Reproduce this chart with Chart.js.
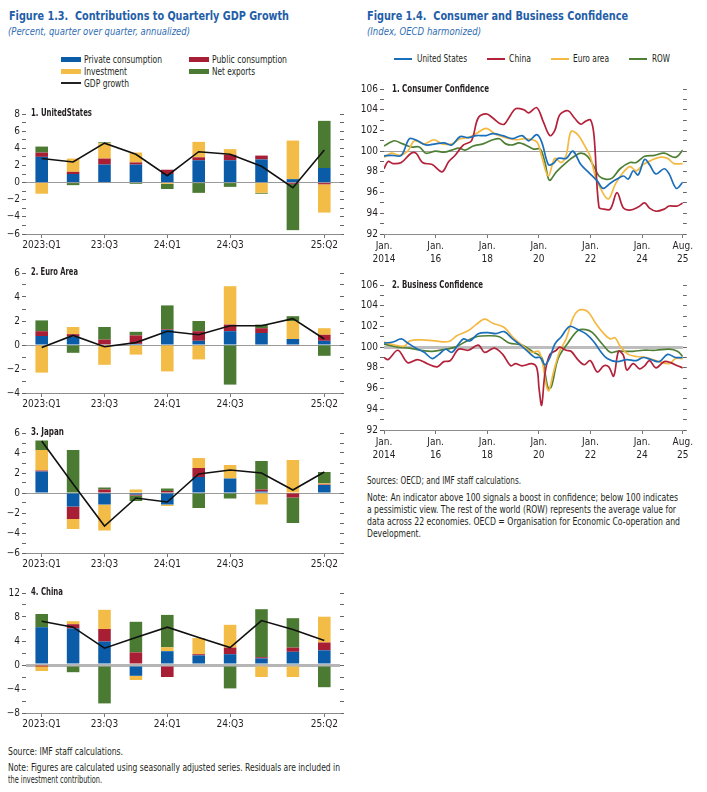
<!DOCTYPE html>
<html lang="en">
<head>
<meta charset="UTF-8" />
<title>Figures 1.3 and 1.4</title>
<script src="https://cdn.jsdelivr.net/npm/chart.js@4.4.1/dist/chart.umd.min.js"></script>
<style>
  body { margin: 0; background: #fff; font-family: "DejaVu Sans Condensed", "Liberation Sans Narrow", "Liberation Sans", sans-serif; color: #231f20; }
  #page { position: relative; width: 707px; height: 792px; overflow: hidden; }
  .abs { position: absolute; white-space: nowrap; transform-origin: 0 50%; }
  .fig-title { font-weight: bold; font-size: 13px; line-height: 18px; color: #1f5ea8; }
  .fig-sub { font-style: italic; font-size: 11px; line-height: 14px; color: #2f6db3; }
  .leg { font-size: 10.5px; line-height: 13px; }
  .sw { position: absolute; width: 20px; height: 5px; }
  .ln { position: absolute; width: 18px; height: 2px; }
  .ptitle { font-weight: bold; font-size: 10.5px; line-height: 14px; }
  .note { font-size: 10px; line-height: 12px; }
  .box { position: absolute; }
</style>
</head>
<body>
<div id="page">
  <!-- left figure -->
  <div class="abs fig-title" data-w="280" style="left:9px;top:7px">Figure 1.3.&nbsp; Contributions to Quarterly GDP Growth</div>
  <div class="abs fig-sub" data-w="182" style="left:8px;top:25px">(Percent, quarter over quarter, annualized)</div>

  <div class="sw" style="left:61px;top:57px;background:#0b5ca8"></div>
  <div class="abs leg" data-w="78" style="left:84px;top:53px">Private consumption</div>
  <div class="sw" style="left:189px;top:57px;background:#a81f35"></div>
  <div class="abs leg" data-w="75" style="left:212px;top:53px">Public consumption</div>
  <div class="sw" style="left:61px;top:69px;background:#f2bc46"></div>
  <div class="abs leg" data-w="43" style="left:84px;top:65px">Investment</div>
  <div class="sw" style="left:189px;top:69px;background:#4b7a33"></div>
  <div class="abs leg" data-w="43" style="left:212px;top:65px">Net exports</div>
  <div class="ln" style="left:61px;top:82px;width:20px;background:#222"></div>
  <div class="abs leg" data-w="45" style="left:84px;top:77px">GDP growth</div>

  <div class="box" style="left:0;top:106px;width:345px;height:144px"><canvas id="us"></canvas></div>
  <div class="box" style="left:0;top:265px;width:345px;height:144px"><canvas id="ea"></canvas></div>
  <div class="box" style="left:0;top:425px;width:345px;height:144px"><canvas id="jp"></canvas></div>
  <div class="box" style="left:0;top:585px;width:345px;height:144px"><canvas id="cn"></canvas></div>

  <div class="abs ptitle" data-w="61" style="left:31px;top:105px">1. UnitedStates</div>
  <div class="abs ptitle" data-w="47" style="left:31px;top:264px">2. Euro Area</div>
  <div class="abs ptitle" data-w="33" style="left:31px;top:424px">3. Japan</div>
  <div class="abs ptitle" data-w="32" style="left:31px;top:584px">4. China</div>

  <div class="abs note" data-w="115" style="left:8px;top:746px">Source: IMF staff calculations.</div>
  <div class="abs note" data-w="332" style="left:8px;top:762px">Note: Figures are calculated using seasonally adjusted series. Residuals are included in</div>
  <div class="abs note" data-w="94" style="left:8px;top:774px">the investment contribution.</div>

  <!-- right figure -->
  <div class="abs fig-title" data-w="261" style="left:367px;top:7px">Figure 1.4.&nbsp; Consumer and Business Confidence</div>
  <div class="abs fig-sub" data-w="114" style="left:367px;top:25px">(Index, OECD harmonized)</div>

  <div class="ln" style="left:394px;top:58px;background:#1b6fba"></div>
  <div class="abs leg" data-w="50" style="left:417px;top:52px">United States</div>
  <div class="ln" style="left:487px;top:58px;background:#b3213a"></div>
  <div class="abs leg" data-w="22" style="left:509px;top:52px">China</div>
  <div class="ln" style="left:551px;top:58px;background:#f4b942"></div>
  <div class="abs leg" data-w="36" style="left:573px;top:52px">Euro area</div>
  <div class="ln" style="left:629px;top:58px;background:#4f7f35"></div>
  <div class="abs leg" data-w="18" style="left:652px;top:52px">ROW</div>

  <div class="box" style="left:355px;top:81px;width:340px;height:187px"><canvas id="cons"></canvas></div>
  <div class="box" style="left:355px;top:277px;width:340px;height:187px"><canvas id="bus"></canvas></div>

  <div class="abs ptitle" data-w="97" style="left:392px;top:81px">1. Consumer Confidence</div>
  <div class="abs ptitle" data-w="91" style="left:392px;top:277px">2. Business Confidence</div>

  <div class="abs note" data-w="154" style="left:367px;top:475px">Sources: OECD; and IMF staff calculations.</div>
  <div class="abs note" data-w="311" style="left:367px;top:492px">Note: An indicator above 100 signals a boost in confidence; below 100 indicates</div>
  <div class="abs note" data-w="309" style="left:367px;top:504px">a pessimistic view. The rest of the world (ROW) represents the average value for</div>
  <div class="abs note" data-w="313" style="left:367px;top:516px">data across 22 economies. OECD = Organisation for Economic Co-operation and</div>
  <div class="abs note" data-w="54" style="left:367px;top:528px">Development.</div>
</div>

<script>
  // ---- Figure 1.3 data (percentage points, 2023:Q1 .. 2025:Q2) ----
  const quarters = ["2023:Q1", "2023:Q2", "2023:Q3", "2023:Q4", "2024:Q1", "2024:Q2", "2024:Q3", "2024:Q4", "2025:Q1", "2025:Q2"];
  const quarterTicks = ["2023:Q1", "", "23:Q3", "", "24:Q1", "", "24:Q3", "", "", "25:Q2"];

  const usPrivate = [3.0, 1.0, 2.1, 2.1, 1.0, 2.6, 2.6, 2.7, 0.4, 1.7];
  const usPublic = [0.5, 0.25, 0.7, 0.25, 0.5, 0.35, 0.65, 0.45, -0.15, -0.2];
  const usInvest = [-1.3, 1.55, 1.8, 1.15, -0.15, 1.8, 0.65, -1.2, 4.5, -3.3];
  const usNetExp = [0.7, -0.3, 0.1, -0.15, -0.6, -1.2, -0.5, -0.1, -5.4, 5.5];
  const usGdp = [2.8, 2.4, 4.6, 3.3, 0.8, 3.6, 3.3, 1.9, -0.6, 3.8];

  const eaPrivate = [0.75, 0.7, 0.05, 0.1, 1.25, 0.35, 1.15, 1.0, 0.5, 0.35];
  const eaPublic = [0.4, 0.2, 0.4, 0.7, 0.05, 0.8, 0.55, 0.4, -0.05, 0.5];
  const eaInvest = [-2.3, 0.6, -1.65, -0.8, -2.2, -1.2, 3.2, 0, 1.5, 0.55];
  const eaNetExp = [0.9, -0.65, 1.05, 0.3, 2.0, 0.85, -3.3, 0.3, 0.4, -0.9];
  const eaGdp = [-0.2, 0.8, -0.15, 0.2, 1.15, 0.85, 1.6, 1.6, 2.2, 0.5];

  const jpPrivate = [2.15, -1.35, -1.15, -0.15, -1.15, 1.6, 1.45, 0.15, -0.05, 0.8];
  const jpPublic = [0.1, -1.25, 0.35, -0.1, 0.2, 0.9, 0, 0.2, -0.4, 0.05];
  const jpInvest = [2.05, -1.0, -2.6, 0.35, -0.15, 1.0, 1.35, -1.15, 3.3, 0.1];
  const jpNetExp = [0.95, 4.3, 0.2, -0.55, 0.25, -1.5, -0.55, 2.85, -2.55, 1.15];
  const jpGdp = [5.2, 0.9, -3.3, -0.5, -0.9, 1.9, 2.3, 2.0, 0.3, 2.1];

  const cnPrivate = [6.3, 6.1, 3.9, -1.8, 2.3, 1.6, 1.8, 1.1, 2.2, 2.45];
  const cnPublic = [-0.1, 0.7, 2.1, 2.1, -2.0, 0.2, 1.1, 0.2, 0.7, 1.3];
  const cnInvest = [-0.9, 0.5, 3.2, -0.7, 0.65, 2.7, 3.8, -2.0, -2.0, 4.3];
  const cnNetExp = [2.2, -1.2, -6.4, 5.1, 5.4, 0, -3.9, 8.0, 4.9, -3.7];
  const cnGdp = [7.3, 6.3, 2.8, 4.6, 6.3, 4.6, 2.9, 7.4, 5.9, 4.1];

  // ---- Figure 1.4 data ([year, index]) ----
  const dateTicks = [2014, 2016, 2018, 2020, 2022, 2024, 2025.58];
  const dateTickLabels = [["Jan.", "2014"], ["Jan.", "16"], ["Jan.", "18"], ["Jan.", "20"], ["Jan.", "22"], ["Jan.", "24"], ["Aug.", "25"]];

  const consUS = [[2014.0,99.55],[2014.3,99.6],[2014.67,99.6],[2014.99,101.2],[2015.3,101.0],[2015.62,100.6],[2016.0,100.7],[2016.32,100.8],[2016.63,100.6],[2016.95,101.4],[2017.27,101.3],[2017.58,101.5],[2017.96,101.5],[2018.22,101.7],[2018.6,101.5],[2018.98,101.2],[2019.35,101.5],[2019.61,101.0],[2019.92,101.6],[2020.11,100.9],[2020.37,98.7],[2020.56,98.8],[2020.75,99.3],[2021.06,99.3],[2021.32,100.0],[2021.63,98.7],[2021.95,97.9],[2022.27,97.1],[2022.49,96.4],[2022.77,96.9],[2023.03,97.3],[2023.28,97.6],[2023.47,97.3],[2023.66,98.1],[2023.85,97.7],[2024.1,99.2],[2024.29,98.7],[2024.54,97.8],[2024.86,98.3],[2025.05,97.8],[2025.33,96.4],[2025.58,97.0]];
  const consCN = [[2014.0,98.3],[2014.16,99.0],[2014.35,98.8],[2014.67,98.9],[2015.05,99.8],[2015.24,99.8],[2015.49,98.9],[2015.87,98.7],[2016.25,98.0],[2016.51,99.0],[2016.76,99.6],[2017.08,100.6],[2017.39,101.0],[2017.65,103.2],[2017.96,103.6],[2018.22,103.2],[2018.47,102.7],[2018.66,102.6],[2018.91,103.5],[2019.1,104.1],[2019.42,104.0],[2019.61,103.7],[2019.92,104.2],[2020.18,102.8],[2020.43,101.5],[2020.62,102.0],[2020.81,103.5],[2021.13,103.9],[2021.38,103.2],[2021.63,102.6],[2021.82,102.9],[2022.01,103.0],[2022.14,101.5],[2022.33,94.6],[2022.52,94.4],[2022.77,94.4],[2023.03,96.0],[2023.28,94.5],[2023.53,94.3],[2023.85,94.6],[2024.1,95.0],[2024.29,94.5],[2024.54,94.2],[2024.86,94.4],[2025.05,94.7],[2025.37,94.7],[2025.58,95.0]];
  const consEA = [[2014.0,99.4],[2014.29,99.8],[2014.61,99.6],[2014.92,100.0],[2015.18,101.0],[2015.56,100.7],[2015.94,101.1],[2016.25,100.7],[2016.63,100.7],[2016.95,101.2],[2017.27,101.3],[2017.58,101.7],[2017.96,102.2],[2018.34,101.6],[2018.72,101.3],[2019.1,101.1],[2019.48,101.2],[2019.92,100.9],[2020.11,99.5],[2020.37,97.6],[2020.62,99.3],[2020.87,98.9],[2021.06,99.6],[2021.25,101.9],[2021.51,101.6],[2021.76,100.6],[2021.99,99.5],[2022.2,97.5],[2022.52,95.8],[2022.71,95.4],[2022.96,96.8],[2023.22,97.8],[2023.53,98.5],[2023.78,98.1],[2024.04,98.7],[2024.35,99.1],[2024.67,99.4],[2024.99,99.3],[2025.24,98.8],[2025.58,98.8]];
  const consROW = [[2014.0,100.5],[2014.29,100.9],[2014.42,101.0],[2014.73,100.7],[2015.05,100.4],[2015.37,100.4],[2015.62,99.8],[2016.0,100.0],[2016.32,99.9],[2016.63,100.1],[2016.89,100.3],[2017.14,100.1],[2017.46,100.5],[2017.84,100.7],[2018.22,101.1],[2018.47,101.2],[2018.72,100.7],[2018.98,100.6],[2019.23,100.8],[2019.48,100.6],[2019.8,100.2],[2020.05,100.2],[2020.24,98.9],[2020.41,97.2],[2020.68,98.0],[2021.06,98.9],[2021.38,99.5],[2021.63,99.8],[2021.89,99.5],[2022.14,98.5],[2022.33,97.6],[2022.58,97.3],[2022.84,97.4],[2023.15,98.3],[2023.53,98.9],[2023.78,98.9],[2024.1,99.5],[2024.48,99.6],[2024.86,99.8],[2025.3,99.4],[2025.58,100.1]];

  const busUS = [[2014.0,100.4],[2014.35,100.5],[2014.67,100.8],[2014.92,100.4],[2015.24,99.9],[2015.56,99.5],[2015.87,98.9],[2016.13,99.3],[2016.38,99.8],[2016.63,99.5],[2016.89,100.3],[2017.08,100.8],[2017.33,100.6],[2017.65,101.3],[2018.03,101.4],[2018.34,101.3],[2018.66,101.5],[2018.98,100.8],[2019.29,100.2],[2019.61,99.5],[2019.86,99.0],[2020.05,99.0],[2020.24,98.3],[2020.43,99.0],[2020.62,100.3],[2020.87,101.0],[2021.19,102.0],[2021.51,101.7],[2021.82,101.3],[2022.14,100.5],[2022.39,99.6],[2022.65,98.9],[2023.03,98.6],[2023.41,98.8],[2023.78,98.7],[2024.04,99.0],[2024.35,98.8],[2024.67,98.6],[2024.99,99.3],[2025.3,99.0],[2025.58,99.0]];
  const busCN = [[2014.0,99.0],[2014.16,98.8],[2014.54,99.7],[2014.92,98.5],[2015.3,98.8],[2015.68,98.4],[2016.06,98.1],[2016.32,98.6],[2016.57,98.7],[2016.89,99.8],[2017.27,99.7],[2017.65,100.2],[2017.9,99.5],[2018.28,99.9],[2018.6,99.3],[2018.91,98.2],[2019.1,98.4],[2019.35,98.2],[2019.73,98.4],[2019.92,98.0],[2020.01,96.0],[2020.11,94.4],[2020.24,97.5],[2020.43,99.3],[2020.68,99.7],[2020.81,100.0],[2021.06,99.7],[2021.25,99.6],[2021.51,98.8],[2021.76,98.3],[2021.99,98.7],[2022.27,97.6],[2022.52,98.2],[2022.71,98.1],[2022.9,97.2],[2023.09,99.6],[2023.28,99.2],[2023.41,97.8],[2023.66,98.4],[2023.91,97.9],[2024.1,98.2],[2024.29,98.7],[2024.54,98.0],[2024.86,98.6],[2025.11,98.5],[2025.37,98.2],[2025.58,98.0]];
  const busEA = [[2014.0,100.5],[2014.42,100.2],[2014.8,100.1],[2014.99,100.6],[2015.43,100.7],[2016.0,100.6],[2016.32,100.5],[2016.57,100.6],[2016.82,101.1],[2017.27,101.6],[2017.58,102.2],[2017.9,102.7],[2018.22,102.3],[2018.66,101.9],[2018.98,101.0],[2019.35,100.2],[2019.73,99.5],[2019.99,99.6],[2020.14,98.5],[2020.3,96.2],[2020.39,95.8],[2020.56,97.5],[2020.81,99.6],[2021.06,100.8],[2021.32,102.8],[2021.51,103.5],[2021.76,103.6],[2021.95,103.3],[2022.2,102.3],[2022.52,101.3],[2022.77,100.8],[2022.96,100.9],[2023.15,100.1],[2023.47,99.3],[2023.78,99.1],[2024.17,99.0],[2024.54,98.7],[2025.05,98.4],[2025.3,98.9],[2025.58,98.9]];
  const busROW = [[2014.0,100.3],[2014.54,100.0],[2014.99,99.9],[2015.43,99.7],[2015.87,99.6],[2016.38,99.8],[2016.76,100.0],[2017.14,100.5],[2017.58,101.0],[2018.09,101.1],[2018.47,101.0],[2018.85,100.4],[2019.35,100.2],[2019.8,99.5],[2020.11,99.0],[2020.24,97.5],[2020.37,96.0],[2020.49,96.2],[2020.75,98.9],[2021.13,100.4],[2021.51,101.6],[2021.82,101.7],[2022.08,101.4],[2022.46,100.3],[2022.77,99.5],[2023.03,99.6],[2023.66,99.6],[2024.04,99.7],[2024.54,99.7],[2025.05,99.8],[2025.37,99.6],[2025.58,99.1]];

  // squeeze HTML text to the widths of the condensed original font
  document.querySelectorAll("[data-w]").forEach((el) => {
    const w = el.getBoundingClientRect().width;
    if (w > 0) el.style.transform = "scaleX(" + (Number(el.dataset.w) / w) + ")";
  });

  const FONT = '"DejaVu Sans Condensed", "Liberation Sans Narrow", "Liberation Sans", sans-serif';
  Chart.defaults.font.family = FONT;
  Chart.defaults.font.size = 10;
  Chart.defaults.color = "#231f20";

  const BLUE = "#0b5ca8", RED = "#a81f35", YELLOW = "#f2bc46", GREEN = "#4b7a33";

  function fmt(v) {
    return v < 0 ? "\u2212" + Math.abs(v) : String(v);
  }

  function barPanel(id, pc, gc, inv, nx, gdp, ymin, ymax, minor, major, zeroWidth, zeroColor) {
    new Chart(document.getElementById(id), {
      type: "bar",
      data: {
        labels: quarters,
        datasets: [
          { type: "line", label: "GDP growth", data: gdp, borderColor: "#111", borderWidth: 1.6, pointRadius: 0, tension: 0, stack: "gdp", order: 0 },
          { label: "Private consumption", data: pc, backgroundColor: BLUE, stack: "c", order: 1 },
          { label: "Public consumption", data: gc, backgroundColor: RED, stack: "c", order: 1 },
          { label: "Investment", data: inv, backgroundColor: YELLOW, stack: "c", order: 1 },
          { label: "Net exports", data: nx, backgroundColor: GREEN, stack: "c", order: 1 },
        ],
      },
      options: {
        animation: false,
        responsive: true,
        maintainAspectRatio: false,
        layout: { padding: { top: 6, left: 0, right: 0, bottom: 0 } },
        plugins: { legend: { display: false }, tooltip: { enabled: false } },
        datasets: { bar: { barPercentage: 0.8, categoryPercentage: 0.5 } },
        scales: {
          x: {
            stacked: true,
            offset: true,
            afterFit: (s) => { s.height = 16; },
            grid: {
              offset: false,
              drawOnChartArea: false,
              tickLength: 4,
              color: (ctx) => (quarterTicks[ctx.index] ? "#777" : "rgba(0,0,0,0)"),
            },
            border: { color: "#8c8c8c" },
            ticks: { autoSkip: false, maxRotation: 0, padding: 1, callback: (v, i) => quarterTicks[i] },
          },
          y: {
            stacked: true,
            min: ymin,
            max: ymax,
            afterFit: (s) => { s.width = 26; },
            border: { display: false },
            grid: {
              color: (ctx) => (ctx.tick && ctx.tick.value === 0 ? zeroColor : "rgba(0,0,0,0)"),
              lineWidth: (ctx) => (ctx.tick && ctx.tick.value === 0 ? zeroWidth : 1),
              tickColor: "#666",
              tickWidth: 1,
              tickLength: 4,
            },
            ticks: { stepSize: minor, autoSkip: false, padding: 2, callback: (v) => (v % major === 0 ? fmt(v) : "") },
          },
          y2: {
            position: "right",
            min: ymin,
            max: ymax,
            afterFit: (s) => { s.width = 5; },
            border: { display: false },
            grid: { drawOnChartArea: false, tickColor: "#666", tickLength: 4 },
            ticks: { stepSize: minor, autoSkip: false, padding: 0, callback: () => "" },
          },
        },
      },
    });
  }

  barPanel("us", usPrivate, usPublic, usInvest, usNetExp, usGdp, -6, 8, 1, 2, 1, "#9a9a9a");
  barPanel("ea", eaPrivate, eaPublic, eaInvest, eaNetExp, eaGdp, -4, 6, 1, 2, 1, "#9a9a9a");
  barPanel("jp", jpPrivate, jpPublic, jpInvest, jpNetExp, jpGdp, -6, 6, 1, 2, 1, "#9a9a9a");
  barPanel("cn", cnPrivate, cnPublic, cnInvest, cnNetExp, cnGdp, -8, 12, 2, 4, 3, "#b5b5b5");

  function pts(arr) {
    return arr.map((p) => ({ x: p[0], y: p[1] }));
  }

  function linePanel(id, us, cn, ea, row, refWidth, refColor) {
    const mk = (label, d, c) => ({ label, data: pts(d), borderColor: c, borderWidth: 1.7, pointRadius: 0, tension: 0.35, fill: false });
    new Chart(document.getElementById(id), {
      type: "line",
      data: {
        datasets: [
          mk("United States", us, "#1b6fba"),
          mk("China", cn, "#b3213a"),
          mk("Euro area", ea, "#f4b942"),
          mk("ROW", row, "#4f7f35"),
        ],
      },
      options: {
        animation: false,
        responsive: true,
        maintainAspectRatio: false,
        layout: { padding: { top: 7, left: 0, right: 0, bottom: 0 } },
        plugins: { legend: { display: false }, tooltip: { enabled: false } },
        scales: {
          x: {
            type: "linear",
            min: 2014,
            max: 2025.58,
            afterFit: (s) => { s.height = 34; },
            afterBuildTicks: (s) => { s.ticks = dateTicks.map((v) => ({ value: v })); },
            grid: { drawOnChartArea: false, tickLength: 4, color: "#777" },
            border: { color: "#8c8c8c" },
            ticks: { autoSkip: false, maxRotation: 0, padding: 2, font: { lineHeight: 1.3 }, callback: (v, i) => dateTickLabels[i] },
          },
          y: {
            min: 92,
            max: 106,
            afterFit: (s) => { s.width = 29; },
            border: { display: false },
            grid: {
              color: (ctx) => (ctx.tick && ctx.tick.value === 100 ? refColor : "rgba(0,0,0,0)"),
              lineWidth: (ctx) => (ctx.tick && ctx.tick.value === 100 ? refWidth : 1),
              tickColor: "#666",
              tickWidth: 1,
              tickLength: 4,
            },
            ticks: { stepSize: 1, autoSkip: false, padding: 2, callback: (v) => (v % 2 === 0 ? String(v) : "") },
          },
          y2: {
            position: "right",
            min: 92,
            max: 106,
            afterFit: (s) => { s.width = 6; },
            border: { display: false },
            grid: { drawOnChartArea: false, tickColor: "#666", tickLength: 4 },
            ticks: { stepSize: 1, autoSkip: false, padding: 0, callback: () => "" },
          },
        },
      },
    });
  }

  linePanel("cons", consUS, consCN, consEA, consROW, 1, "#a0a0a0");
  linePanel("bus", busUS, busCN, busEA, busROW, 3, "#bdbdbd");
</script>
</body>
</html>
